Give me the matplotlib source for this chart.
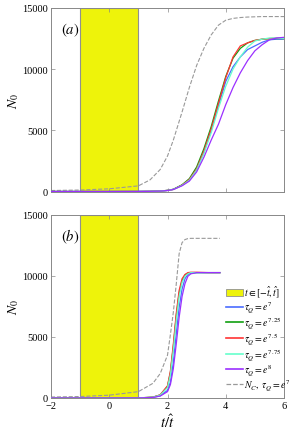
import numpy as np
import matplotlib.pyplot as plt
from matplotlib.patches import Patch
from matplotlib.lines import Line2D

plt.rcParams['font.family'] = ['Liberation Serif', 'DejaVu Serif']
plt.rcParams['mathtext.fontset'] = 'stix'

# panel (a)
t_a = [-2, -1, 0, 1, 1.4, 1.75, 2.0, 2.2, 2.5, 2.75, 3.0, 3.25, 3.5, 3.75, 4.0, 4.25, 4.5, 4.75, 5.0, 5.25, 5.5, 5.75, 6.0]
nc_a = [80, 120, 220, 460, 950, 1800, 2900, 4200, 6500, 8500, 10300, 11700, 12800, 13600, 14000, 14150, 14220, 14260, 14280, 14300, 14300, 14300, 14300]
blue_a = [0, 0, 0, 5, 15, 40, 90, 180, 520, 950, 1800, 3200, 5000, 7000, 9000, 10200, 11000, 11600, 11900, 12200, 12400, 12450, 12450]
green_a = [0, 0, 0, 5, 15, 40, 90, 180, 550, 1050, 2000, 3500, 5300, 7400, 9400, 10900, 11700, 12150, 12350, 12450, 12500, 12500, 12500]
red_a = [0, 0, 0, 5, 15, 40, 90, 170, 520, 980, 1850, 3300, 5100, 7200, 9300, 11000, 11900, 12150, 12350, 12450, 12500, 12550, 12500]
cyan_a = [0, 0, 0, 5, 15, 40, 85, 170, 500, 920, 1750, 3100, 4800, 6800, 8600, 10000, 11000, 11800, 12300, 12450, 12550, 12550, 12500]
purple_a = [0, 0, 0, 5, 15, 35, 80, 160, 470, 850, 1600, 2800, 4200, 5500, 7100, 8500, 9700, 10700, 11500, 12000, 12400, 12550, 12600]

# panel (b)
t_b = [-2, -1, 0, 1, 1.5, 1.75, 2.0, 2.1, 2.2, 2.3, 2.4, 2.5, 2.6, 2.7, 2.8, 3.0, 3.4, 3.8]
nc_b = [80, 120, 230, 520, 1200, 2000, 3500, 5200, 7000, 9300, 11800, 12700, 12950, 13030, 13050, 13050, 13050, 13050]
blue_b = [0, 0, 0, 5, 50, 180, 620, 1300, 2900, 5200, 7400, 8900, 9750, 10100, 10200, 10250, 10250, 10250]
green_b = [0, 0, 0, 5, 70, 250, 950, 2100, 4200, 6700, 8600, 9600, 10050, 10200, 10250, 10250, 10250, 10250]
red_b = [0, 0, 0, 5, 70, 260, 1000, 2200, 4400, 6900, 8800, 9750, 10100, 10250, 10280, 10280, 10250, 10250]
cyan_b = [0, 0, 0, 5, 65, 230, 850, 1900, 3900, 6300, 8300, 9450, 9950, 10150, 10250, 10250, 10250, 10250]
purple_b = [0, 0, 0, 5, 45, 160, 520, 1100, 2400, 4400, 6600, 8300, 9350, 9950, 10150, 10250, 10250, 10250]

labels = [r'$\tau_Q=e^7$', r'$\tau_Q=e^{7.25}$', r'$\tau_Q=e^{7.5}$', r'$\tau_Q=e^{7.75}$', r'$\tau_Q=e^{8}$']
colors = ['#4a6cff', '#10a010', '#ff3434', '#66ffcc', '#9b30ff']

fig = plt.figure(figsize=(2.99, 4.35), dpi=100)
ax1 = fig.add_axes([51/299, 1-192.5/435, 233/299, 183.5/435])
ax2 = fig.add_axes([51/299, 1-399/435, 233/299, 183.5/435])

panels = [(ax1, t_a, nc_a, [blue_a, green_a, red_a, cyan_a, purple_a], 'a'),
          (ax2, t_b, nc_b, [blue_b, green_b, red_b, cyan_b, purple_b], 'b')]

for ax, t, nc, series, tag in panels:
    ax.axvspan(-1, 1, facecolor='#eef30a', edgecolor='#909090', lw=0.8, zorder=1)
    for y, c in zip(series, colors):
        ax.plot(t, y, color=c, lw=0.9, zorder=3)
    ax.plot(t, nc, '--', color='#999999', lw=0.8, zorder=2)
    ax.set_xlim(-2, 6)
    ax.set_ylim(0, 15000)
    ax.set_xticks([-2, 0, 2, 4, 6])
    ax.set_yticks([0, 5000, 10000, 15000])
    ax.tick_params(direction='in', top=True, right=True, labelsize=7.5,
                   length=3, width=0.5, color='#888888', pad=2)
    for s in ax.spines.values():
        s.set_color('#888888')
        s.set_linewidth(0.7)
    ax.set_ylabel(r'$N_0$', fontsize=10, labelpad=1)
    ax.text(0.045, 0.86, r'$(' + tag + ')$', transform=ax.transAxes, fontsize=10.5)

ax1.set_xticklabels([])
ax2.set_xlabel(r'$t/\hat{t}$', fontsize=10.5, labelpad=2)

handles = [Patch(facecolor='#eef30a', edgecolor='#909090', lw=0.6)]
handles += [Line2D([], [], color=c, lw=1.2) for c in colors]
handles += [Line2D([], [], color='#999999', lw=0.9, ls='--')]
leg_labels = [r'$t\in[-\hat{t},\hat{t}]$'] + labels + [r'$N_C,\ \tau_Q=e^7$']
ax2.legend(handles, leg_labels, loc='lower right', fontsize=7, frameon=False,
           handlelength=1.7, handletextpad=0.15, labelspacing=0.0,
           borderaxespad=0.0, borderpad=0.1, bbox_to_anchor=(1.035, 0.03))

fig.savefig('out.png', dpi=100)
